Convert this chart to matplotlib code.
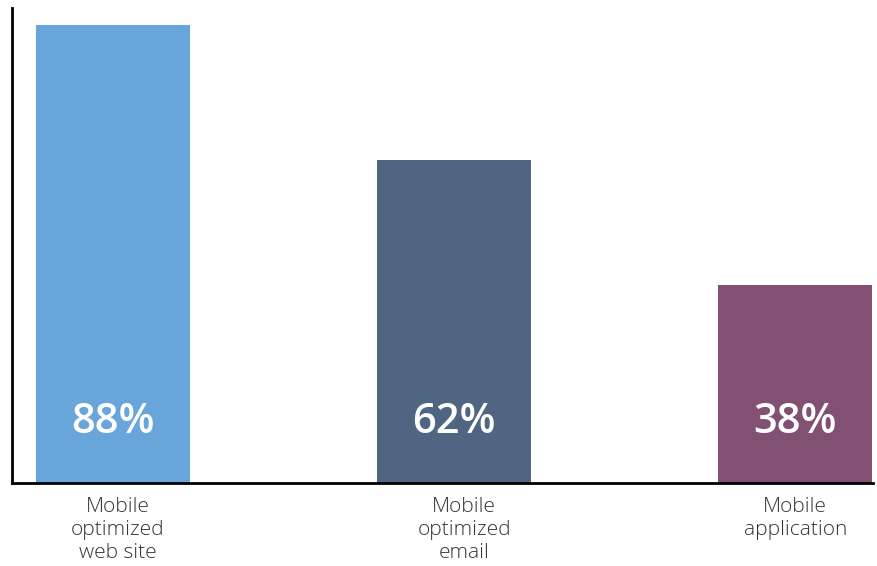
import numpy as np
import matplotlib.pyplot as plt

# Données du graphique
categories = ["Mobile\noptimized\nweb site", "Mobile\noptimized\nemail", "Mobile\napplication"]
valeurs = [88, 62, 38]
couleurs = ["#67a5da", "#506582", "#815072"]
decalage = [5, 10, 0]  # décalage horizontal des étiquettes (points)

plt.rcParams['font.family'] = ['Open Sans', 'DejaVu Sans']

fig = plt.figure(figsize=(8.77, 5.66), dpi=100)
ax = fig.add_axes([12/877, 1 - 483/566, 861/877, 475/566])

x = np.arange(len(valeurs))
barres = ax.bar(x, valeurs, width=0.452, color=couleurs)

# Étiquettes de pourcentage dans les barres
for xi, v in zip(x, valeurs):
    ax.text(xi, 11.7, "%d%%" % v, ha="center", va="center",
            color="white", fontsize=30, fontweight="semibold")

# Étiquettes des catégories sous l'axe
for xi, c, d in zip(x, categories, decalage):
    ax.annotate(c, (xi, 0), xytext=(d * 0.72, -10), textcoords="offset points",
                ha="center", va="top", color="#333333",
                fontsize=15, linespacing=1.22, fontweight="light",
                annotation_clip=False)

ax.set_xlim(-0.296, 2.228)
ax.set_ylim(0, 91.3)
ax.set_xticks([])
ax.set_yticks([])
for s in ["top", "right"]:
    ax.spines[s].set_visible(False)
for s in ["left", "bottom"]:
    ax.spines[s].set_linewidth(2)
    ax.spines[s].set_color("black")

fig.savefig("out.png", dpi=100)
